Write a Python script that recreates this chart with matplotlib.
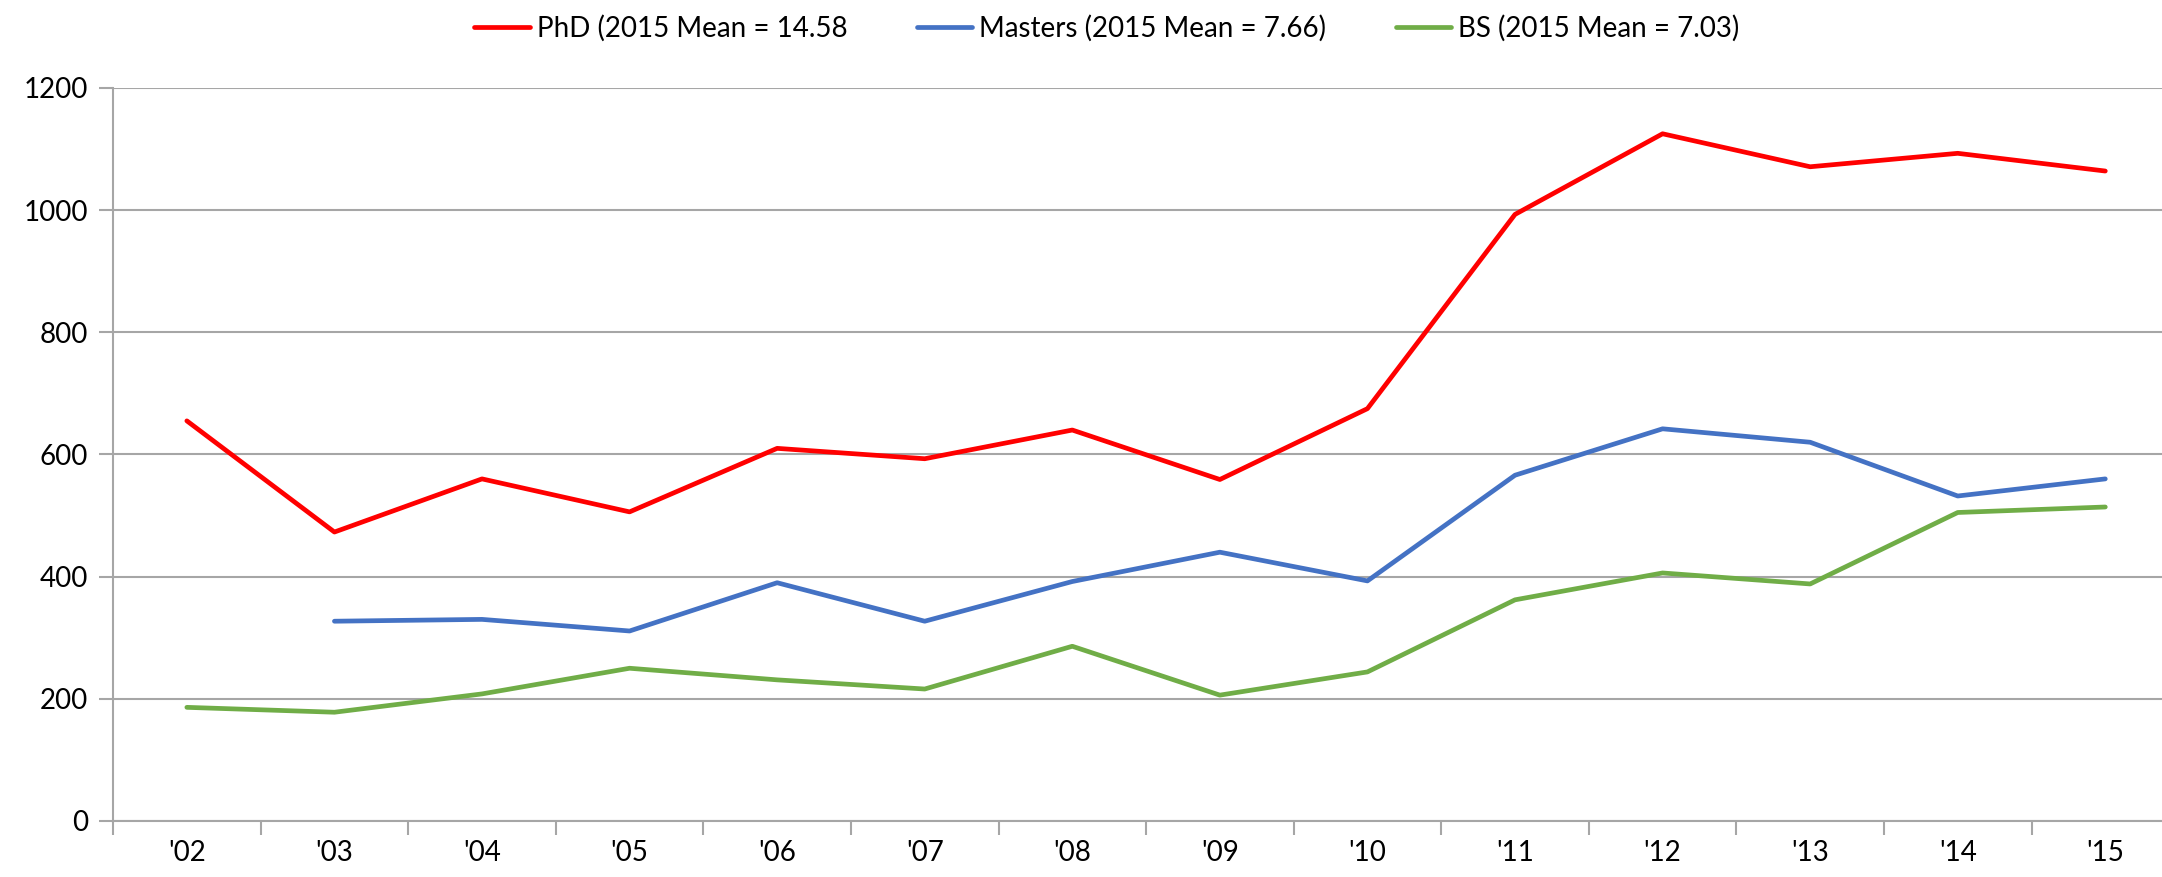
import numpy as np
import matplotlib.pyplot as plt

# values
years = ["'02", "'03", "'04", "'05", "'06", "'07", "'08", "'09", "'10", "'11", "'12", "'13", "'14", "'15"]
phd = [655, 473, 560, 506, 610, 593, 640, 559, 675, 993, 1125, 1071, 1093, 1064]
masters = [np.nan, 327, 330, 311, 390, 327, 392, 440, 393, 566, 642, 620, 532, 560]
bs = [186, 178, 208, 250, 231, 216, 286, 206, 244, 362, 406, 388, 505, 514]

labels = ['PhD (2015 Mean = 14.58', 'Masters (2015 Mean = 7.66)', 'BS (2015 Mean = 7.03)']
colors = ['#FF0000', '#4472C4', '#70AD47']

plt.rcParams['font.family'] = ['Lato', 'DejaVu Sans']

fig = plt.figure(figsize=(21.62, 8.77), dpi=100)
ax = fig.add_axes([0.0523, 0.0639, 0.9556, 0.8358])

x = np.arange(len(years))
for vals, lab, c in zip([phd, masters, bs], labels, colors):
    ax.plot(x, vals, color=c, lw=3.4, label=lab, solid_capstyle='round')

ax.set_xlim(-0.5, len(years) - 0.5)
ax.set_ylim(0, 1200)
ax.set_yticks(np.arange(0, 1201, 200))
ax.set_xticks(np.arange(-0.5, len(years), 1))
ax.set_xticklabels([])
ax.set_xticks(x, minor=True)
ax.set_xticklabels(years, minor=True)
ax.tick_params(axis='x', which='minor', length=0, pad=14, labelsize=20)
ax.tick_params(axis='x', which='major', length=10, width=1.5, color='#a6a6a6')
ax.tick_params(axis='y', length=10, width=1.5, color='#a6a6a6', pad=8, labelsize=20)

ax.grid(axis='y', color='#a6a6a6', lw=1.5)
ax.set_axisbelow(True)
for s in ['top', 'right']:
    ax.spines[s].set_visible(False)
for s in ['left', 'bottom']:
    ax.spines[s].set_color('#a6a6a6')
    ax.spines[s].set_linewidth(1.5)

fig.legend(loc='center', bbox_to_anchor=(0.512, 0.968), ncol=3, frameon=False,
           prop={'size': 20}, handlelength=2.0, handletextpad=0.25, columnspacing=2.5)

fig.savefig('out.png', dpi=100)
